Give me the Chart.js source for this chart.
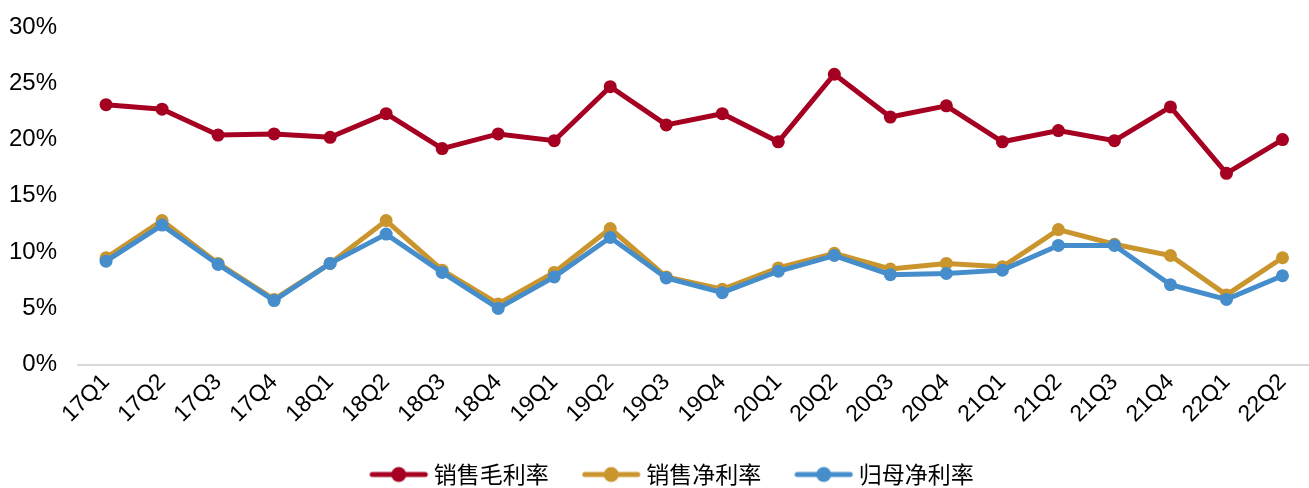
<!DOCTYPE html>
<html>
<head>
<meta charset="utf-8">
<script src="https://cdn.jsdelivr.net/npm/chart.js@4.4.0/dist/chart.umd.min.js"></script>
<style>
  html, body { margin: 0; padding: 0; background: #fff; overflow: hidden; }
  #wrap { width: 1317px; height: 488px; }
</style>
</head>
<body>
<div id="wrap"><canvas id="grafico"></canvas></div>
<script>
// categorias e séries
const trimestres = ['17Q1','17Q2','17Q3','17Q4','18Q1','18Q2','18Q3','18Q4','19Q1','19Q2','19Q3','19Q4',
  '20Q1','20Q2','20Q3','20Q4','21Q1','21Q2','21Q3','21Q4','22Q1','22Q2'];
const margemBruta = [23.1, 22.7, 20.4, 20.5, 20.2, 22.3, 19.2, 20.5, 19.9, 24.7, 21.3, 22.3,
  19.8, 25.8, 22.0, 23.0, 19.8, 20.8, 19.9, 22.9, 17.0, 20.0];
const margemLiquida = [9.5, 12.8, 9.0, 5.8, 9.0, 12.8, 8.4, 5.4, 8.2, 12.1, 7.8, 6.7,
  8.6, 9.9, 8.5, 9.0, 8.7, 12.0, 10.7, 9.7, 6.2, 9.5];
const margemAcionistas = [9.2, 12.4, 8.9, 5.7, 9.0, 11.6, 8.2, 5.0, 7.8, 11.3, 7.7, 6.4,
  8.3, 9.7, 8.0, 8.1, 8.4, 10.6, 10.6, 7.1, 5.8, 7.9];
const nomesSeries = ['销售毛利率', '销售净利率', '归母净利率'];
const cores = ['#A50021', '#C9952C', '#468DCB'];
const ticksY = [0, 5, 10, 15, 20, 25, 30];

// amostra da legenda: linha com círculo
function criarAmostra(cor) {
  const c = document.createElement('canvas');
  c.width = 61; c.height = 18;
  const ctx = c.getContext('2d');
  ctx.strokeStyle = cor;
  ctx.lineWidth = 5;
  ctx.lineCap = 'round';
  ctx.beginPath();
  ctx.moveTo(3, 9); ctx.lineTo(56, 9);
  ctx.stroke();
  ctx.fillStyle = cor;
  ctx.beginPath();
  ctx.arc(29.5, 9, 7.5, 0, Math.PI * 2);
  ctx.fill();
  return c;
}

const valores = [margemBruta, margemLiquida, margemAcionistas];
const ordens = [2, 1, 0];

const datasets = valores.map((dados, i) => ({
  label: nomesSeries[i],
  data: dados,
  borderColor: cores[i],
  backgroundColor: cores[i],
  borderWidth: 5,
  pointRadius: 6.5,
  pointHoverRadius: 6.5,
  pointBorderWidth: 0,
  pointStyle: 'circle',
  tension: 0,
  order: ordens[i]
}));

const amostras = cores.map(criarAmostra);

// ajusta a posição da legenda
const deslocaLegenda = {
  id: 'deslocaLegenda',
  afterLayout(chart) {
    const leg = chart.legend;
    if (!leg) return;
    leg.left += 23;
    leg.right += 23;
    leg.top -= 10;
    leg.bottom -= 10;
  }
};

new Chart(document.getElementById('grafico'), {
  type: 'line',
  data: { labels: trimestres, datasets: datasets },
  plugins: [deslocaLegenda],
  options: {
    responsive: true,
    maintainAspectRatio: false,
    animation: false,
    events: [],
    layout: { padding: { top: 27, left: -12, right: 0, bottom: -18 } },
    scales: {
      x: {
        offset: true,
        grid: { display: false, drawTicks: false },
        border: { display: true, color: '#D9D9D9', width: 2 },
        afterFit: (eixo) => { eixo.paddingLeft = 0; eixo.paddingRight = 0; },
        ticks: {
          color: '#000',
          font: { family: '"Liberation Sans", Arial, sans-serif', size: 23 },
          minRotation: 45,
          maxRotation: 45,
          autoSkip: false,
          padding: 4
        }
      },
      y: {
        min: 0,
        max: 30,
        afterBuildTicks: (eixo) => { eixo.ticks = ticksY.map(v => ({ value: v })); },
        afterFit: (eixo) => { eixo.paddingTop = 0; eixo.paddingBottom = 0; },
        grid: { display: false, drawTicks: false },
        border: { display: false },
        ticks: {
          color: '#000',
          font: { family: '"Liberation Sans", Arial, sans-serif', size: 24 },
          padding: 21,
          callback: (v) => v + '%'
        }
      }
    },
    plugins: {
      legend: {
        position: 'bottom',
        labels: {
          usePointStyle: true,
          pointStyleWidth: 45,
          padding: 41,
          color: '#000',
          font: { family: '"Noto Sans CJK SC", sans-serif', size: 23 },
          sort: (a, b) => a.datasetIndex - b.datasetIndex,
          generateLabels: (chart) => nomesSeries.map((nome, i) => ({
            text: nome,
            pointStyle: amostras[i],
            fillStyle: cores[i],
            strokeStyle: cores[i],
            lineWidth: 0,
            hidden: false,
            datasetIndex: i
          }))
        }
      },
      tooltip: { enabled: false }
    }
  }
});
</script>
</body>
</html>
